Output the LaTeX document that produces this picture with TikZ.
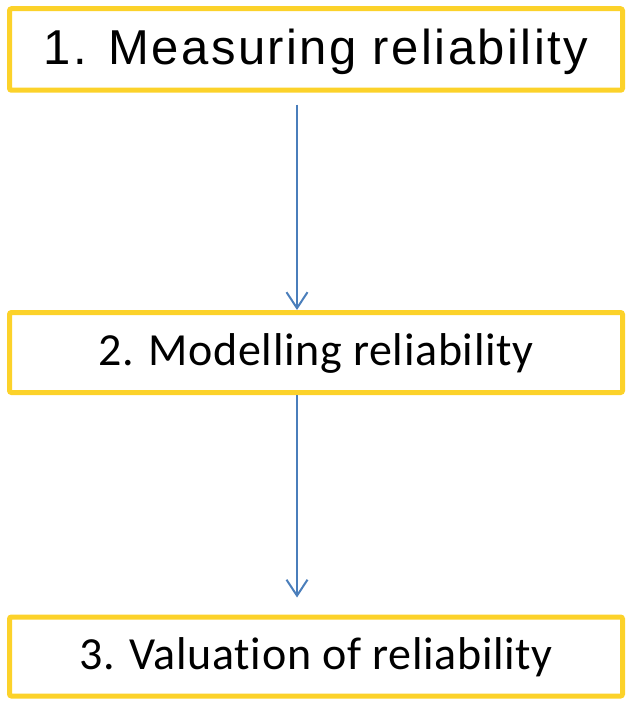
\documentclass[tikz,border=0pt]{standalone}
\usepackage{fontspec}
\usepackage{tikz}
\usetikzlibrary{positioning, calc, arrows.meta}
\newfontfamily\arialfont[LetterSpace=5]{Liberation Sans}
\newfontfamily\calibrifont[LetterSpace=1.5, Ligatures=NoCommon]{Carlito}
\definecolor{boxyellow}{RGB}{252,210,42}
\definecolor{arrowblue}{RGB}{74,126,187}
\tikzstyle{stagebox} = [draw=boxyellow, line width=5pt,
minimum width = 613pt, minimum height = 80pt,
rounded corners = 2pt, fill=white,
text height = 33pt, text depth = 8pt,
inner sep = 0pt]
\tikzstyle{flowarrow} = [draw=arrowblue, line width=2pt,
-{Straight Barb[length=16pt, width=21pt, line width=2pt]}]

\begin{document}
\begin{tikzpicture}[x=1pt, y=-1pt]
	\useasboundingbox (0,0) rectangle (627,703);
	\coordinate (a) at (316, 49.5);
	\coordinate (b) at (316, 352.5);
	\coordinate (c) at (316, 656.5);
	\node[stagebox, minimum height=81.5pt, text height=37pt, text depth=7pt](measure) at (a) {\arialfont\fontsize{49}{58}\selectfont 1. Measuring reliability};
	\node[stagebox](model) at (b) {\calibrifont\fontsize{46}{55}\selectfont 2. Modelling reliability};
	\node[stagebox, minimum height=79pt](value) at (c) {\calibrifont\fontsize{46}{55}\selectfont 3. Valuation of reliability};
	%% Measuring to modelling to valuation
	\draw[flowarrow, shorten <=12pt] ([xshift=-19pt]measure.south) -- ([xshift=-19pt]model.north);
	\draw[flowarrow, shorten >=17pt] ([xshift=-19pt]model.south) -- ([xshift=-19pt]value.north);
\end{tikzpicture}
\end{document}
